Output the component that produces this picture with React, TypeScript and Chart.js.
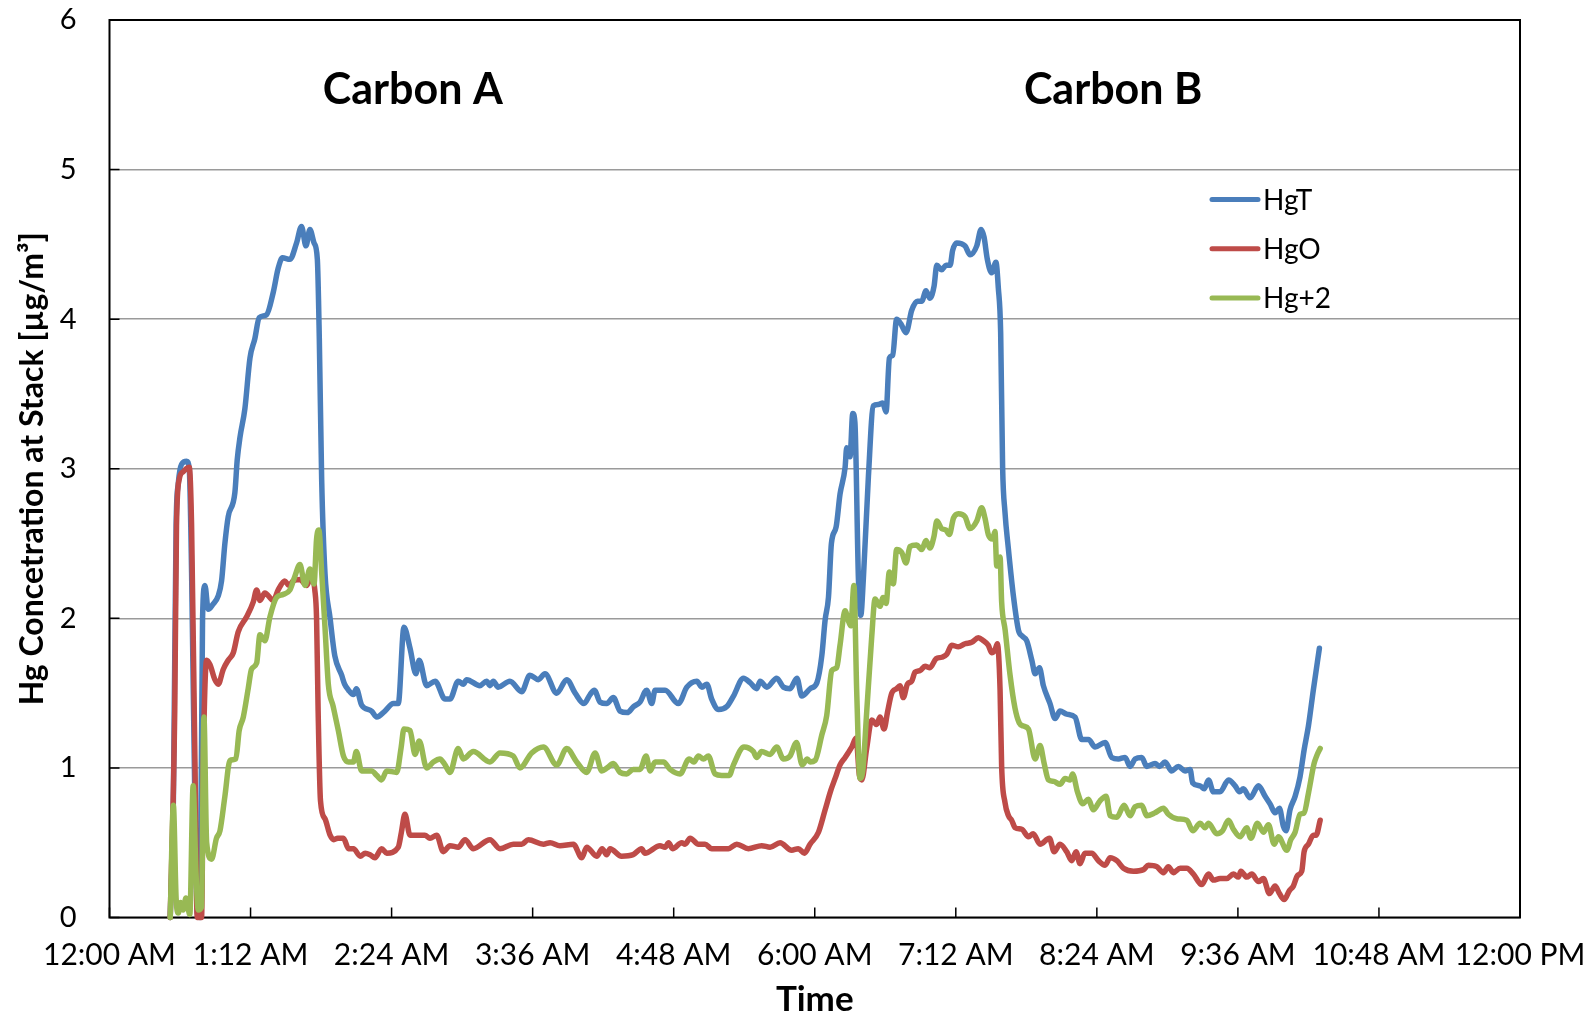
import React, { useEffect, useRef } from 'react';
import { Chart, registerables } from 'chart.js';

Chart.register(...registerables);

const FONT = 'Lato, "Noto Sans", sans-serif';

// x axis: minutes after midnight, tick labels every 72 minutes
const TIME_LABELS = ['12:00 AM', '1:12 AM', '2:24 AM', '3:36 AM', '4:48 AM', '6:00 AM', '7:12 AM', '8:24 AM', '9:36 AM', '10:48 AM', '12:00 PM'];

const SERIES_NAMES = ['HgT', 'HgO', 'Hg+2'];
const SERIES_COLORS = ['#4A7EBB', '#BE4B48', '#98B954'];

const HGT_TIME = [31, 32.6, 34, 35.1, 36.8, 39.4, 40.7, 41.9, 43.6, 44.8, 46.2, 47.5, 48.7, 50.4, 52.6, 55.5, 57.2, 58.9, 60.6, 64, 65.2, 66.6, 69.1, 71.7, 74.2, 76.4, 80.2, 83.6, 86.1, 88.3, 92.1, 95.5, 98, 100.3, 102.3, 104.4, 106.1, 107.1, 108.3, 110, 112.6, 115, 118.5, 120, 122, 124.5, 126, 128.7, 133.8, 136.4, 140.6, 144.9, 147.4, 150.3, 153.4, 156.4, 158.1, 161.9, 166.2, 171.3, 173.8, 178, 180.6, 182.3, 189.1, 192.5, 194.2, 195.9, 198.4, 204.4, 210.4, 214.6, 218.9, 222.3, 228.3, 233.4, 237.7, 242.2, 245.3, 247.5, 250.4, 253.8, 257.2, 260.6, 264.3, 267.5, 270.8, 274.2, 276.8, 278.5, 283.6, 290.4, 294.7, 299.8, 302.4, 304.9, 307.4, 310.9, 315.1, 318.5, 323.6, 327, 330.4, 332.1, 335.5, 340.6, 344, 347.4, 350.9, 353.4, 357.7, 361.1, 363.6, 365.3, 367, 368.5, 370.9, 372.9, 375.5, 376.3, 378, 379.4, 380.5, 382.3, 383.5, 384.8, 387.4, 389.9, 392.5, 394.7, 396.4, 398.1, 399.8, 401.8, 403.9, 406.6, 409.5, 412.4, 414.6, 416.8, 418.8, 420.9, 422.3, 424.8, 427, 429.1, 430.4, 432.5, 436.7, 439.3, 442.7, 444.9, 446.4, 448.1, 450.3, 452.5, 453.7, 454.9, 455.9, 457.1, 458.8, 461.4, 464, 466, 468.2, 470.8, 472.5, 474.7, 476.7, 480.1, 482.7, 485.2, 488.6, 492.9, 496.3, 499.7, 503.1, 508.2, 511.6, 515, 518.4, 521, 523.5, 526.9, 529.5, 533.7, 536, 538.8, 542.2, 545.6, 549, 551.6, 552.9, 556.7, 558.8, 561, 563.5, 566.9, 571.2, 574.6, 576.8, 578.8, 582.2, 586.5, 589.9, 592.4, 595, 597.2, 599.2, 600.6, 602.6, 605.2, 607.7, 609.8, 612, 614.5, 617.6];
const HGT = [0, 0.78, 2.62, 2.9, 3.03, 3.05, 3.0, 2.31, 0.75, 0.03, 0, 2.0, 2.22, 2.06, 2.09, 2.15, 2.25, 2.5, 2.68, 2.84, 3.06, 3.21, 3.4, 3.74, 3.87, 4.01, 4.03, 4.18, 4.34, 4.41, 4.4, 4.51, 4.62, 4.49, 4.6, 4.51, 4.4, 3.87, 2.93, 2.3, 2.0, 1.75, 1.62, 1.56, 1.52, 1.49, 1.53, 1.42, 1.38, 1.34, 1.38, 1.43, 1.43, 1.94, 1.8, 1.63, 1.72, 1.55, 1.58, 1.46, 1.46, 1.58, 1.56, 1.59, 1.55, 1.58, 1.55, 1.58, 1.54, 1.58, 1.51, 1.62, 1.59, 1.63, 1.5, 1.59, 1.5, 1.43, 1.49, 1.52, 1.44, 1.43, 1.47, 1.38, 1.37, 1.41, 1.44, 1.52, 1.43, 1.52, 1.52, 1.43, 1.54, 1.58, 1.54, 1.56, 1.46, 1.39, 1.41, 1.48, 1.6, 1.57, 1.53, 1.58, 1.54, 1.6, 1.54, 1.53, 1.6, 1.48, 1.53, 1.57, 1.75, 1.99, 2.14, 2.5, 2.61, 2.83, 3.01, 3.14, 3.08, 3.37, 3.31, 2.26, 2.02, 2.26, 2.95, 3.42, 3.43, 3.44, 3.38, 3.74, 3.76, 4.0, 3.97, 3.91, 4.06, 4.12, 4.12, 4.19, 4.14, 4.22, 4.36, 4.33, 4.36, 4.36, 4.46, 4.51, 4.49, 4.43, 4.49, 4.6, 4.55, 4.4, 4.31, 4.38, 4.21, 3.91, 3.01, 2.71, 2.47, 2.15, 1.92, 1.88, 1.85, 1.72, 1.63, 1.67, 1.55, 1.43, 1.33, 1.38, 1.36, 1.34, 1.19, 1.19, 1.14, 1.17, 1.07, 1.06, 1.07, 1.01, 1.06, 1.07, 1.01, 1.03, 1.01, 1.04, 0.98, 1.01, 0.98, 0.99, 0.9, 0.88, 0.86, 0.92, 0.84, 0.84, 0.92, 0.88, 0.84, 0.86, 0.8, 0.88, 0.81, 0.76, 0.7, 0.73, 0.61, 0.58, 0.72, 0.81, 0.94, 1.12, 1.28, 1.52, 1.8];

const HGO_TIME = [31, 33.3, 34.2, 35.6, 37.6, 40.7, 41.9, 43.6, 44.8, 47, 47.9, 49.6, 51.3, 53.8, 55.5, 58.1, 60.6, 63.2, 65.7, 70, 73.4, 75.1, 76.8, 79.3, 83.6, 86.1, 89.5, 91.5, 93.8, 97.2, 100.6, 103.1, 104.8, 105.7, 106.5, 107.7, 110, 112.6, 114.5, 116.5, 119.4, 122, 124.5, 128, 130.5, 133, 135.5, 138.9, 141.5, 147.4, 149, 150.8, 153.4, 158.5, 161, 163.6, 167, 170.4, 173.8, 178, 181.5, 185.7, 194.2, 199.3, 206.1, 210.4, 213.8, 221.5, 224.9, 229.9, 236.8, 241.1, 243.6, 248.7, 251.5, 253.8, 255.5, 261.4, 267.3, 271.6, 273.3, 281, 283.6, 285.4, 287.4, 292.1, 293.8, 296.4, 300.6, 304, 307.4, 315.9, 320.2, 326.1, 332.9, 337.2, 342.3, 348.2, 351.6, 354.7, 357.6, 361.9, 365.3, 368.2, 370.4, 372.9, 375.5, 377, 378.9, 381.1, 382.8, 384, 386.5, 389.1, 391.6, 393.3, 395.4, 397.1, 399.3, 401.8, 403.5, 405.2, 407.3, 409.5, 411.2, 413.7, 416.3, 418.8, 421.9, 424.8, 427.4, 429.9, 433.3, 436.7, 440.1, 443.5, 446.1, 448.6, 450.3, 452, 453.2, 454.6, 455.4, 457.1, 458.9, 460.5, 462.3, 465.7, 469.1, 471.5, 475, 479.8, 482.2, 485.2, 488.6, 491.2, 493.4, 495.4, 497.9, 501.4, 504.8, 508.2, 510.8, 514.2, 517.6, 522.7, 527.8, 530.3, 534.6, 538, 540.5, 543.1, 546.5, 549.9, 553.3, 557.5, 561, 563.5, 566.9, 570.3, 573.7, 576.3, 577.5, 580.5, 583.1, 586.5, 589, 592.1, 595, 597.2, 599.6, 602.3, 604.3, 606.4, 608.6, 609.8, 612, 614.5, 615.9, 618];
const HGO = [0, 1.38, 2.62, 2.93, 2.98, 3.01, 2.62, 1.06, 0, 0, 1.06, 1.72, 1.69, 1.59, 1.56, 1.66, 1.72, 1.77, 1.91, 2.01, 2.11, 2.19, 2.12, 2.17, 2.12, 2.19, 2.25, 2.22, 2.25, 2.26, 2.22, 2.28, 2.19, 2.0, 1.38, 0.78, 0.66, 0.55, 0.52, 0.53, 0.53, 0.46, 0.46, 0.41, 0.43, 0.42, 0.4, 0.46, 0.43, 0.47, 0.57, 0.69, 0.55, 0.55, 0.55, 0.53, 0.55, 0.44, 0.48, 0.47, 0.52, 0.46, 0.52, 0.46, 0.49, 0.49, 0.52, 0.49, 0.5, 0.48, 0.49, 0.4, 0.47, 0.41, 0.46, 0.42, 0.46, 0.41, 0.42, 0.46, 0.43, 0.48, 0.47, 0.5, 0.46, 0.5, 0.49, 0.53, 0.49, 0.49, 0.46, 0.46, 0.49, 0.46, 0.48, 0.47, 0.5, 0.45, 0.46, 0.43, 0.49, 0.57, 0.72, 0.85, 0.93, 1.02, 1.07, 1.1, 1.14, 1.2, 0.95, 0.92, 1.13, 1.32, 1.29, 1.34, 1.26, 1.37, 1.5, 1.53, 1.55, 1.47, 1.56, 1.58, 1.64, 1.65, 1.68, 1.67, 1.73, 1.74, 1.76, 1.82, 1.81, 1.83, 1.84, 1.87, 1.85, 1.82, 1.77, 1.79, 1.83, 1.52, 1.01, 0.77, 0.68, 0.65, 0.6, 0.59, 0.54, 0.56, 0.49, 0.53, 0.44, 0.49, 0.44, 0.38, 0.44, 0.36, 0.43, 0.43, 0.38, 0.35, 0.4, 0.38, 0.33, 0.31, 0.32, 0.35, 0.34, 0.3, 0.34, 0.3, 0.33, 0.33, 0.29, 0.22, 0.29, 0.25, 0.26, 0.26, 0.29, 0.27, 0.31, 0.27, 0.29, 0.24, 0.26, 0.16, 0.21, 0.16, 0.12, 0.18, 0.21, 0.28, 0.31, 0.44, 0.49, 0.55, 0.55, 0.65];

const HG2_TIME = [31, 32.6, 34, 35.1, 36.3, 37.6, 39, 41, 42.7, 44.1, 45.3, 47, 48.2, 49.6, 52.1, 54.6, 56.4, 58.9, 61.5, 64.5, 66.2, 68.3, 70.8, 72.5, 75.1, 76.8, 79.3, 81.9, 85.3, 88.7, 92.1, 94.6, 97.2, 99.8, 102.3, 104.4, 105.7, 106.9, 108.3, 110, 111.7, 114.2, 116.8, 119.4, 122, 124.5, 126, 128.7, 133.8, 136.4, 138.9, 141.5, 146.6, 148.8, 150.3, 153.4, 156, 158.1, 161.9, 165.3, 168.7, 171.3, 173.8, 178, 180.6, 185.7, 194.2, 199.3, 206.1, 209.5, 215.5, 221.5, 228.3, 233.4, 238.5, 243.6, 247.9, 251.3, 254, 257.2, 260.6, 264, 267.3, 270.8, 273.9, 276, 278.5, 282.8, 286.2, 291.2, 295.9, 298.3, 300.6, 303.2, 305.7, 309.1, 312.5, 316.4, 318.5, 323.9, 328.6, 330.4, 332.9, 337.2, 340.6, 344, 347.4, 350.7, 353.6, 356.2, 357.6, 360.2, 363.6, 366.1, 368.7, 371.2, 372.9, 375.5, 377, 378.4, 380, 381.4, 383.1, 384.5, 386.5, 389.1, 390.8, 393.3, 394.9, 396.4, 398.1, 400.1, 401.8, 404.4, 406.6, 408.6, 412, 414.6, 416.8, 418.8, 420.9, 422.3, 424.8, 427, 428.7, 430.8, 433.3, 436.7, 439.3, 442.7, 445.2, 446.9, 448.6, 450.8, 452, 452.9, 454.6, 455.4, 457.2, 459.7, 462.2, 464.4, 466.5, 469.1, 472.5, 475, 477.1, 479.3, 482, 485.2, 487.8, 490.3, 491.6, 494.1, 496.8, 499.7, 502.2, 505.6, 508.7, 510.8, 514.2, 517.9, 521, 523.5, 526.9, 529.5, 533.7, 538, 540.5, 544.8, 549.9, 553, 556.7, 559.2, 561, 565.2, 568.2, 571.2, 573.7, 577.1, 580.5, 582.6, 586, 589, 591.6, 594.5, 596.7, 601, 603, 605.2, 607.7, 609.8, 612, 614.9, 616.2, 618];
const HG2 = [0, 0.75, 0.13, 0.03, 0.1, 0.05, 0.13, 0.02, 0.88, 0.32, 0.05, 0.07, 1.34, 0.5, 0.39, 0.53, 0.58, 0.81, 1.05, 1.06, 1.25, 1.34, 1.53, 1.66, 1.7, 1.89, 1.85, 2.01, 2.14, 2.16, 2.19, 2.28, 2.36, 2.22, 2.33, 2.23, 2.53, 2.59, 2.31, 1.94, 1.56, 1.41, 1.25, 1.08, 1.04, 1.04, 1.11, 0.98, 0.98, 0.95, 0.92, 0.98, 0.97, 1.13, 1.26, 1.25, 1.09, 1.18, 1.0, 1.04, 1.06, 1.02, 0.97, 1.13, 1.06, 1.11, 1.04, 1.1, 1.08, 1.0, 1.1, 1.14, 1.02, 1.13, 1.04, 0.97, 1.1, 0.98, 1.0, 1.03, 0.97, 0.96, 0.99, 0.99, 1.08, 0.98, 1.04, 1.04, 0.99, 0.96, 1.06, 1.04, 1.08, 1.06, 1.08, 0.96, 0.95, 0.95, 1.02, 1.14, 1.11, 1.07, 1.11, 1.09, 1.14, 1.06, 1.08, 1.17, 1.02, 1.06, 1.04, 1.05, 1.22, 1.35, 1.65, 1.67, 1.82, 2.05, 1.99, 1.95, 2.22, 1.52, 0.93, 0.98, 1.37, 1.88, 2.13, 2.08, 2.14, 2.1, 2.31, 2.23, 2.46, 2.44, 2.37, 2.48, 2.49, 2.46, 2.52, 2.47, 2.55, 2.65, 2.6, 2.59, 2.56, 2.67, 2.7, 2.68, 2.6, 2.65, 2.74, 2.67, 2.56, 2.53, 2.58, 2.35, 2.41, 2.11, 1.92, 1.62, 1.4, 1.3, 1.28, 1.26, 1.06, 1.15, 1.03, 0.92, 0.91, 0.89, 0.93, 0.92, 0.96, 0.84, 0.76, 0.79, 0.72, 0.78, 0.81, 0.68, 0.67, 0.75, 0.68, 0.74, 0.75, 0.68, 0.7, 0.73, 0.69, 0.66, 0.65, 0.58, 0.63, 0.6, 0.63, 0.56, 0.58, 0.65, 0.59, 0.54, 0.6, 0.53, 0.63, 0.57, 0.62, 0.49, 0.54, 0.45, 0.52, 0.57, 0.69, 0.7, 0.83, 1.03, 1.08, 1.13];

const ANNOTATION_TEXT = ['Carbon A', 'Carbon B'];
const ANNOTATION_TIME = [154.8, 512.3];
const ANNOTATION_VALUE = [5.44, 5.44];

const SERIES_TIMES = [HGT_TIME, HGO_TIME, HG2_TIME];
const SERIES_VALUES = [HGT, HGO, HG2];

const decorPlugin = {
  id: 'decor',
  beforeDatasetsDraw(chart: any) {
    const { ctx, chartArea: a, scales } = chart;
    ctx.save();
    ctx.strokeStyle = '#000000';
    ctx.lineWidth = 2;
    ctx.strokeRect(a.left, a.top, a.right - a.left, a.bottom - a.top);
    ctx.lineWidth = 1.5;
    ctx.beginPath();
    scales.x.ticks.forEach((t: any) => {
      const px = scales.x.getPixelForValue(t.value);
      ctx.moveTo(px, a.bottom);
      ctx.lineTo(px, a.bottom - 10);
    });
    scales.y.ticks.forEach((t: any) => {
      const py = scales.y.getPixelForValue(t.value);
      ctx.moveTo(a.left, py);
      ctx.lineTo(a.left + 10, py);
    });
    ctx.stroke();
    ctx.restore();
  },
  afterDatasetsDraw(chart: any) {
    const { ctx, chartArea: a, scales } = chart;
    ctx.save();
    // annotations
    ctx.fillStyle = '#000000';
    ctx.font = `bold 43px ${FONT}`;
    ctx.textAlign = 'center';
    ctx.textBaseline = 'alphabetic';
    ANNOTATION_TEXT.forEach((txt, i) => {
      ctx.fillText(txt, scales.x.getPixelForValue(ANNOTATION_TIME[i]), scales.y.getPixelForValue(ANNOTATION_VALUE[i]));
    });
    // legend
    ctx.font = `28px ${FONT}`;
    ctx.textAlign = 'left';
    ctx.textBaseline = 'middle';
    chart.data.datasets.forEach((ds: any, i: number) => {
      const y = a.top + 179.5 + i * 49.2;
      const x0 = a.right - 308;
      ctx.strokeStyle = ds.borderColor;
      ctx.lineWidth = 5;
      ctx.lineCap = 'round';
      ctx.beginPath();
      ctx.moveTo(x0, y);
      ctx.lineTo(x0 + 46, y);
      ctx.stroke();
      ctx.fillStyle = '#000000';
      ctx.fillText(ds.label, x0 + 51, y + 1);
    });
    ctx.restore();
  },
};

export default function App() {
  const canvasRef = useRef<HTMLCanvasElement | null>(null);

  useEffect(() => {
    if (!canvasRef.current) return;
    const datasets = SERIES_NAMES.map((name, i) => ({
      label: name,
      data: SERIES_TIMES[i].map((t, j) => ({ x: t, y: SERIES_VALUES[i][j] })),
      borderColor: SERIES_COLORS[i],
      backgroundColor: SERIES_COLORS[i],
      borderWidth: 5.5,
      pointRadius: 0,
      tension: 0.3,
      cubicInterpolationMode: 'monotone' as const,
      borderJoinStyle: 'round' as const,
      borderCapStyle: 'round' as const,
      clip: false as any,
      order: 2 - i,
    }));
    const chart = new Chart(canvasRef.current, {
      type: 'line',
      data: { datasets },
      options: {
        animation: false,
        responsive: true,
        maintainAspectRatio: false,
        devicePixelRatio: 1,
        layout: { padding: { left: 0, right: 69, top: 20, bottom: 0 } },
        plugins: {
          legend: { display: false },
          tooltip: { enabled: false },
        },
        scales: {
          x: {
            type: 'linear',
            min: 0,
            max: 720,
            grid: { display: false, drawTicks: false },
            border: { display: false },
            ticks: {
              stepSize: 72,
              autoSkip: false,
              maxRotation: 0,
              padding: 20,
              color: '#000000',
              font: { family: FONT, size: 30 },
              callback: (v: any) => TIME_LABELS[Math.round(Number(v) / 72)] ?? '',
            },
            title: {
              display: true,
              text: 'Time',
              color: '#000000',
              font: { family: FONT, size: 35, weight: 'bold', lineHeight: 1.1 },
              padding: { top: 0, bottom: 0 },
            },
            afterFit: (s: any) => {
              s.height = 101.5;
              s.paddingLeft = 0;
              s.paddingRight = 0;
            },
          },
          y: {
            min: 0,
            max: 6,
            grid: { color: '#9a9a9a', lineWidth: 1.5, drawTicks: false },
            border: { display: false },
            ticks: {
              stepSize: 1,
              padding: 33,
              color: '#000000',
              font: { family: FONT, size: 29 },
            },
            title: {
              display: true,
              text: 'Hg Concetration at Stack [µg/m³]',
              color: '#000000',
              font: { family: FONT, size: 32, weight: 'bold', lineHeight: 1.0 },
              padding: { top: 17, bottom: 0 },
            },
            afterFit: (s: any) => {
              s.width = 109.5;
              s.paddingTop = 0;
              s.paddingBottom = 0;
            },
          },
        },
      },
      plugins: [decorPlugin],
    });
    return () => chart.destroy();
  }, []);

  return (
    <div style={{ position: 'absolute', left: 0, top: 0, width: 1589, height: 1019 }}>
      <canvas ref={canvasRef} />
    </div>
  );
}
